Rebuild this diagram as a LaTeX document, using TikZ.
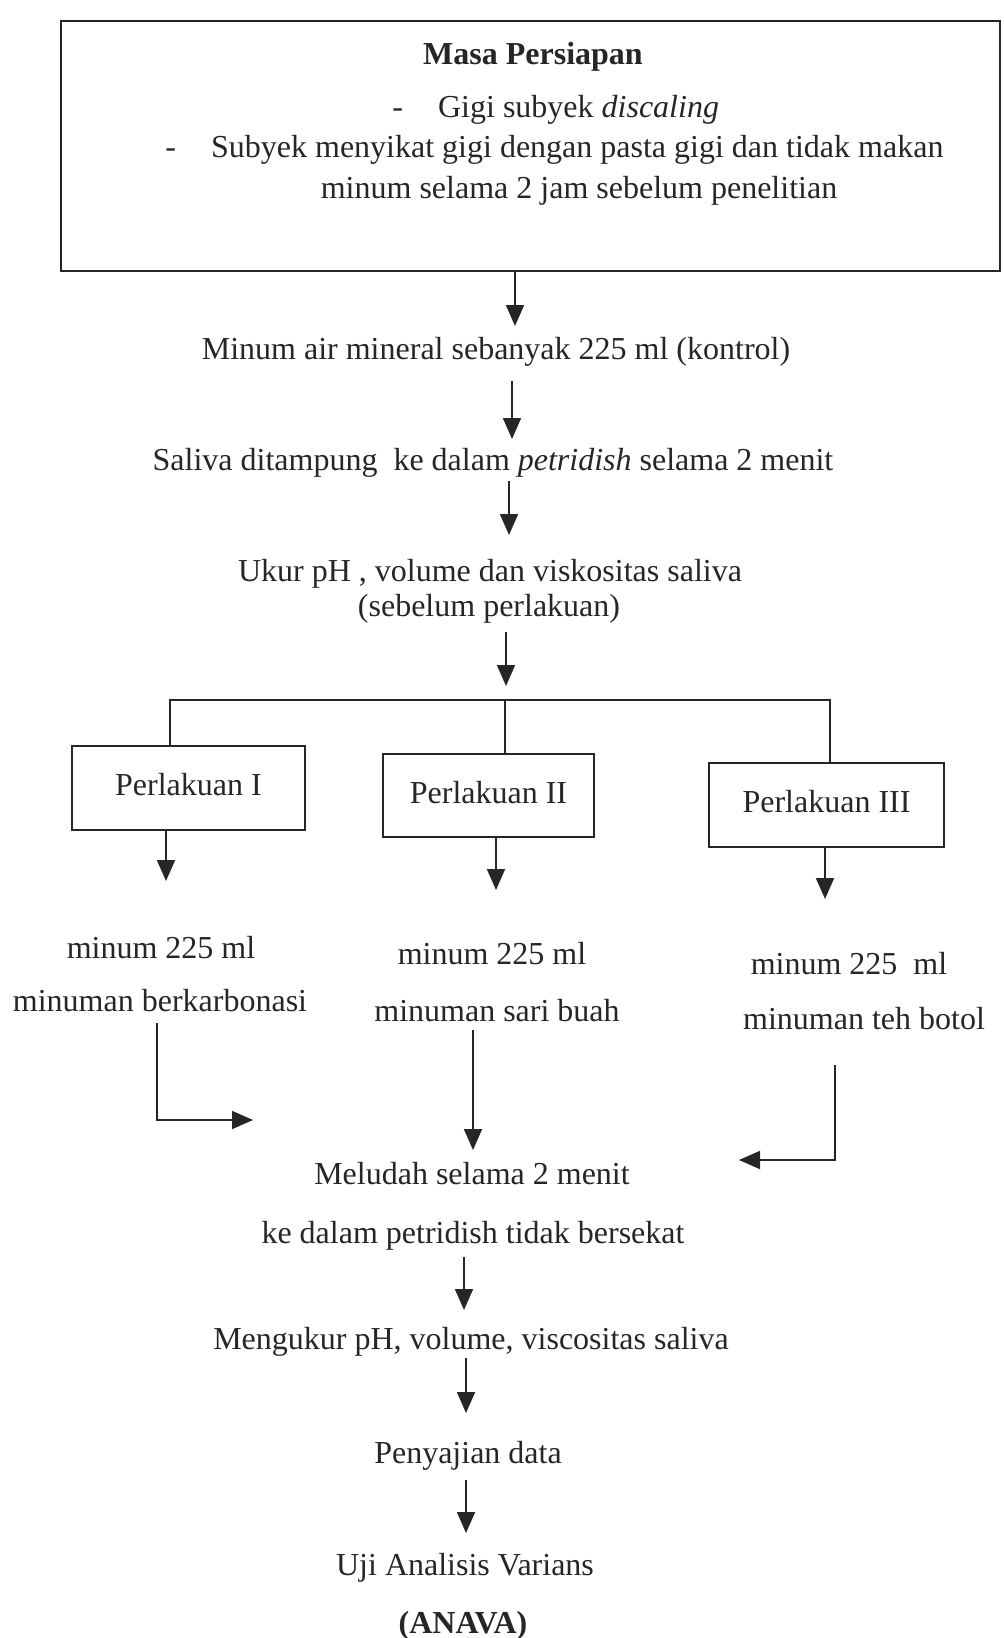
\documentclass[tikz,border=0pt]{standalone}
\usepackage{fontspec}
\setmainfont{Liberation Serif}
\usetikzlibrary{arrows.meta,calc}
\definecolor{ink}{HTML}{262626}
\begin{document}
\begin{tikzpicture}[x=0.75pt,y=-0.75pt,
  txt/.style={inner sep=0pt, text=ink, font=\fontsize{24}{28}\selectfont, text height=16.8pt, text depth=5.3pt},
  boxn/.style={draw=ink, line width=1.4pt, inner sep=0pt},
  ln/.style={draw=ink, line width=1.4pt},
  arr/.style={ln, -{Triangle[length=15.75pt,width=13.5pt]}}]
\useasboundingbox[fill=white] (0,0) rectangle (1003,1638);

% preparation box
\node[boxn, minimum width=704.25pt, minimum height=187.5pt] (prep) at (530.5,146) {};
\node[txt, font=\fontsize{24}{28}\selectfont\bfseries] (title) at (533,57) {Masa Persiapan};
\node[txt, anchor=west] (l1) at (392,110) {-\hspace{1.1em}Gigi subyek \textit{discaling}};
\node[txt, anchor=west] (l2) at (165,150) {-\hspace{1.1em}Subyek menyikat gigi dengan pasta gigi dan tidak makan};
\node[txt] (l3) at (579,191) {minum selama 2 jam sebelum penelitian};

% main chain
\node[txt] (kontrol) at (496,352) {Minum air mineral sebanyak 225 ml (kontrol)};
\node[txt] (saliva) at (493,463) {Saliva ditampung\ \ ke dalam \textit{petridish} selama 2 menit};
\node[txt] (ukur1) at (490,574) {Ukur pH , volume dan viskositas saliva};
\node[txt] (ukur2) at (489,609) {(sebelum perlakuan)};

% treatment boxes
\node[boxn, txt, draw=ink, line width=1.4pt, minimum width=174.75pt, minimum height=63pt] (p1) at (188.5,788) {Perlakuan I};
\node[boxn, txt, draw=ink, line width=1.4pt, minimum width=158.25pt, minimum height=62.25pt] (p2) at (488.5,795.5) {Perlakuan II};
\node[boxn, txt, draw=ink, line width=1.4pt, minimum width=176.25pt, minimum height=63pt] (p3) at (826.5,805) {Perlakuan III};

\node[txt] (m1a) at (161,951) {minum 225 ml};
\node[txt] (m1b) at (160,1004) {minuman berkarbonasi};
\node[txt] (m2a) at (492,957) {minum 225 ml};
\node[txt] (m2b) at (497,1014) {minuman sari buah};
\node[txt] (m3a) at (849,967) {minum 225\ \ ml};
\node[txt] (m3b) at (864,1022) {minuman teh botol};

\node[txt] (mel1) at (472,1177) {Meludah selama 2 menit};
\node[txt] (mel2) at (473,1236) {ke dalam petridish tidak bersekat};
\node[txt] (ukur3) at (471,1342) {Mengukur pH, volume, viscositas saliva};
\node[txt] (saji) at (468,1456) {Penyajian data};
\node[txt] (uji) at (465,1568) {Uji Analisis Varians};
\node[txt, font=\fontsize{24}{28}\selectfont\bfseries] (anava) at (463,1626) {(ANAVA)};

% arrow tips and helper points
\coordinate (t1) at (515,326);
\coordinate (t2) at (512,439);
\coordinate (t3) at (509,535);
\coordinate (t4) at (506,686);
\coordinate (hl) at (170,700);
\coordinate (hc) at (505,700);
\coordinate (hr) at (830,700);
\coordinate (b1) at (166,881);
\coordinate (b2) at (496,890);
\coordinate (b3) at (825,899);
\coordinate (cl) at (157,1000);
\coordinate (tl) at (253,1120);
\coordinate (tm) at (473,1150);
\coordinate (cr) at (835,1000);
\coordinate (tr) at (739,1160);
\coordinate (t5) at (464,1310);
\coordinate (t6) at (466,1413);
\coordinate (t7) at (466,1533);

% connectors
\draw[arr] (prep.south -| t1) -- (t1);
\draw[arr] ($(kontrol.south -| t2)+(0,14)$) -- (t2);
\draw[arr] ($(saliva.south -| t3)+(0,3)$) -- (t3);
\draw[arr] ($(ukur2.south -| t4)+(0,8)$) -- (t4);
\draw[ln] (p1.north -| hl) -- (hl) -- (hr) -- (p3.north -| hr);
\draw[ln] (hc) -- (p2.north -| hc);
\draw[arr] (p1.south -| b1) -- (b1);
\draw[arr] (p2.south -| b2) -- (b2);
\draw[arr] (p3.south -| b3) -- (b3);
\draw[arr] ($(m1b.south -| cl)+(0,4)$) |- (tl);
\draw[arr] ($(m2b.south -| tm)+(0,1)$) -- (tm);
\draw[arr] ($(m3b.south -| cr)+(0,28)$) |- (tr);
\draw[arr] ($(mel2.south -| t5)+(0,6)$) -- (t5);
\draw[arr] ($(ukur3.south -| t6)+(0,1)$) -- (t6);
\draw[arr] ($(saji.south -| t7)+(0,9)$) -- (t7);
\end{tikzpicture}
\end{document}
